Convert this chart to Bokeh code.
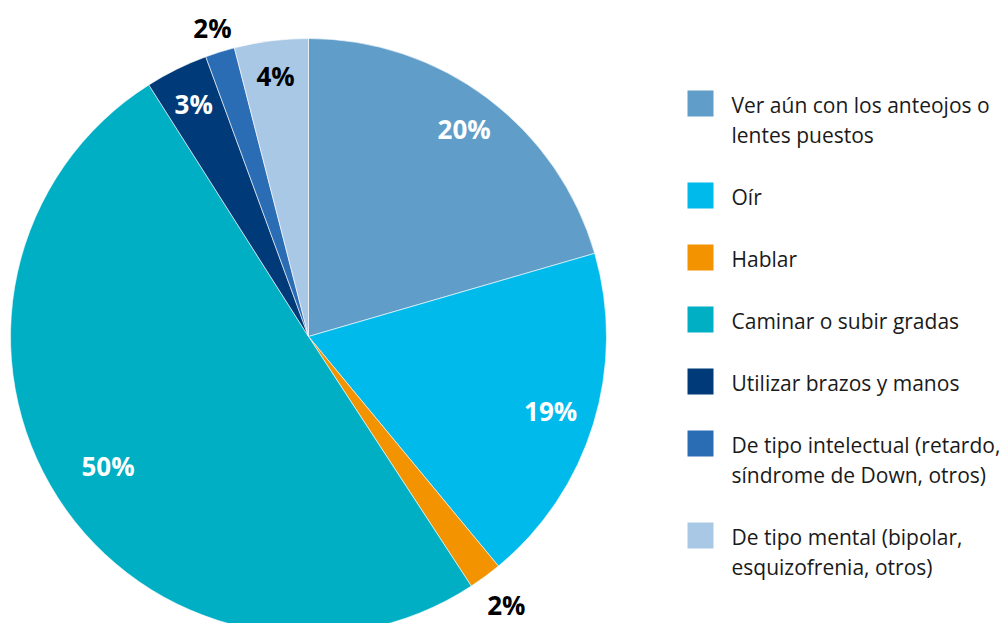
import math
from bokeh.plotting import figure
from bokeh.models import Range1d, ColumnDataSource
from bokeh.core.properties import value
from bokeh.embed import file_html
from bokeh.resources import INLINE

categories = [
    "Ver aún con los anteojos o\nlentes puestos",
    "Oír",
    "Hablar",
    "Caminar o subir gradas",
    "Utilizar brazos y manos",
    "De tipo intelectual (retardo,\nsíndrome de Down, otros)",
    "De tipo mental (bipolar,\nesquizofrenia, otros)",
]
values = [20.5, 18.5, 1.8, 50.2, 3.4, 1.6, 4.0]
labels = ["20%", "19%", "2%", "50%", "3%", "2%", "4%"]
colors = ["#609ec9", "#00baec", "#f39300", "#00afc4", "#003a78", "#2a6db5", "#a8c8e6"]
label_colors = ["white", "white", "black", "white", "white", "black", "black"]
label_rfrac = [0.87, 0.85, 1.12, 0.80, 0.87, 1.085, 0.88]

W, H = 1000, 623
p = figure(width=W, height=H, output_backend="svg", toolbar_location=None,
           x_range=Range1d(0, W), y_range=Range1d(631 - H, 631), min_border=0,
           outline_line_color=None)
p.axis.visible = False
p.grid.visible = False

cx, cy, R = 308, 631 - 336, 298
total = sum(values)
starts, ends, mids = [], [], []
cum = 0.0
for v in values:
    a0 = math.pi / 2 - 2 * math.pi * cum / total
    cum += v
    a1 = math.pi / 2 - 2 * math.pi * cum / total
    starts.append(a0)
    ends.append(a1)
    mids.append((a0 + a1) / 2)

src = ColumnDataSource(dict(start=starts, end=ends, color=colors))
p.wedge(x=cx, y=cy, radius=R, start_angle="start", end_angle="end",
        direction="clock", fill_color="color", line_color="white",
        line_width=0.6, source=src)

lx = [cx + R * f * math.cos(m) for f, m in zip(label_rfrac, mids)]
ly = [cy + R * f * math.sin(m) for f, m in zip(label_rfrac, mids)]
p.text(x=lx, y=ly, text=labels, text_color=label_colors,
       text_font=value("Open Sans"), text_font_style="bold",
       text_font_size="26px", text_align="center", text_baseline="middle")

# legend
sq_x = 700
txt_x = 731
y0 = 103
sq_y, tx, ty, tt = [], [], [], []
y = y0
for cat in categories:
    lines = cat.split("\n")
    sq_y.append(631 - y)
    for j, ln in enumerate(lines):
        tx.append(txt_x)
        ty.append(631 - (y + 1 + 30 * j))
        tt.append(ln)
    y += 62 + 30 * (len(lines) - 1)

p.rect(x=[sq_x] * len(categories), y=sq_y, width=26, height=26,
       fill_color=colors, line_color=None)
p.text(x=tx, y=ty, text=tt, text_color="#1a1a1a",
       text_font=value("Open Sans"), text_font_size="21px",
       text_align="left", text_baseline="middle")

open("out.html", "w").write(file_html(p, INLINE))
